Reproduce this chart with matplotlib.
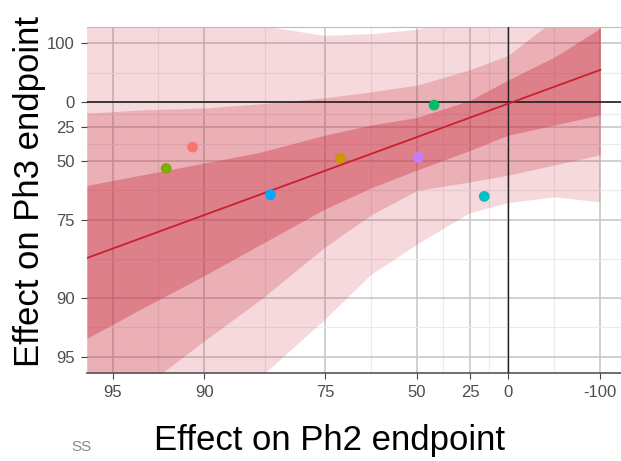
import numpy as np
import matplotlib
matplotlib.use("Agg")
import matplotlib.pyplot as plt

# values on the log hazard ratio scale
band_x = [-3.19, -2.75, -2.31, -1.88, -1.39, -1.04, -0.69, -0.29, 0.0, 0.35, 0.70]
dark_lo = [-2.78, -2.41, -2.05, -1.68, -1.26, -1.01, -0.80, -0.57, -0.39, -0.27, -0.15]
dark_hi = [-0.98, -0.85, -0.72, -0.59, -0.39, -0.27, -0.18, 0.02, 0.26, 0.53, 0.87]
mid_lo = [-3.85, -3.34, -2.82, -2.33, -1.71, -1.33, -1.04, -0.94, -0.86, -0.74, -0.62]
mid_hi = [-0.13, -0.09, -0.07, -0.02, 0.05, 0.12, 0.20, 0.38, 0.55, 0.97, 1.32]
light_lo = [-4.92, -4.33, -3.80, -3.25, -2.57, -2.04, -1.68, -1.31, -1.19, -1.12, -1.18]
light_hi = [1.44, 1.32, 1.20, 0.90, 0.78, 0.80, 0.85, 1.02, 1.20, 1.32, 1.44]

fit_x = [-3.19, 0.70]
fit_y = [-1.835, 0.38]

pts_x = [-2.39, -2.59, -1.80, -1.27, -0.68, -0.56, -0.18]
pts_y = [-0.53, -0.78, -1.09, -0.66, -0.65, -0.035, -1.11]
pts_col = ['#F8766D', '#7CAE00', '#00A9FF', '#CD9600', '#C77CFF', '#00BE67', '#00BFC4']

x_pct = [95, 90, 75, 50, 25, 0, -100]
x_labels = ['95', '90', '75', '50', '25', '0', '-100']
y_pct = [-100, 0, 25, 50, 75, 90, 95]
y_labels = ['100', '0', '25', '50', '75', '90', '95']

xt = np.log(1 - np.array(x_pct) / 100)
yt = np.log(1 - np.array(y_pct) / 100)

fig = plt.figure(figsize=(6.21, 4.61), dpi=100)
ax = fig.add_axes([0.140, 0.191, 0.860, 0.750])

band_col = (0.78, 0.12, 0.2)
ax.fill_between(band_x, light_lo, light_hi, color=band_col, alpha=0.17, lw=0, zorder=2)
ax.fill_between(band_x, mid_lo, mid_hi, color=band_col, alpha=0.22, lw=0, zorder=2)
ax.fill_between(band_x, dark_lo, dark_hi, color=band_col, alpha=0.33, lw=0, zorder=2)

ax.axhline(0, color='#222222', lw=1.2, zorder=3)
ax.axvline(0, color='#222222', lw=1.0, zorder=3)
ax.plot(fit_x, fit_y, color='#C8202F', lw=1.3, zorder=4)
ax.scatter(pts_x, pts_y, c=pts_col, s=60, zorder=5, linewidths=0)

ax.set_xlim(-3.19, 0.856)
ax.set_ylim(-3.188, 0.882)

ax.set_xticks(xt)
ax.set_xticklabels(x_labels)
ax.set_yticks(yt)
ax.set_yticklabels(y_labels)
ax.set_xticks((xt[:-1] + xt[1:]) / 2, minor=True)
ax.set_yticks((yt[:-1] + yt[1:]) / 2, minor=True)

ax.set_axisbelow(True)
ax.grid(which='major', color='#C4C4C4', lw=1.1)
ax.grid(which='minor', color='#EBEBEB', lw=0.8)
ax.tick_params(which='minor', length=0)
ax.tick_params(which='major', length=4, color='#444444', labelcolor='#4D4D4D',
               labelsize=12, pad=5)
for lab in ax.get_xticklabels() + ax.get_yticklabels():
    lab.set_family(['Liberation Sans', 'DejaVu Sans'])

for s in ['left', 'right']:
    ax.spines[s].set_visible(False)
ax.spines['top'].set_color('#BBBBBB')
ax.spines['bottom'].set_color('#555555')
ax.spines['bottom'].set_linewidth(1.2)

fig.text(0.53, 0.045, 'Effect on Ph2 endpoint', ha='center', va='center',
         fontsize=25, family=['Liberation Sans', 'DejaVu Sans'])
fig.text(0.048, 0.585, 'Effect on Ph3 endpoint', ha='center', va='center',
         rotation=90, fontsize=25, family=['Liberation Sans', 'DejaVu Sans'])
fig.text(0.115, 0.03, 'SS', ha='left', va='center', fontsize=11, color='#888888',
         family=['Liberation Sans', 'DejaVu Sans'])

fig.savefig('out.png', dpi=100)
